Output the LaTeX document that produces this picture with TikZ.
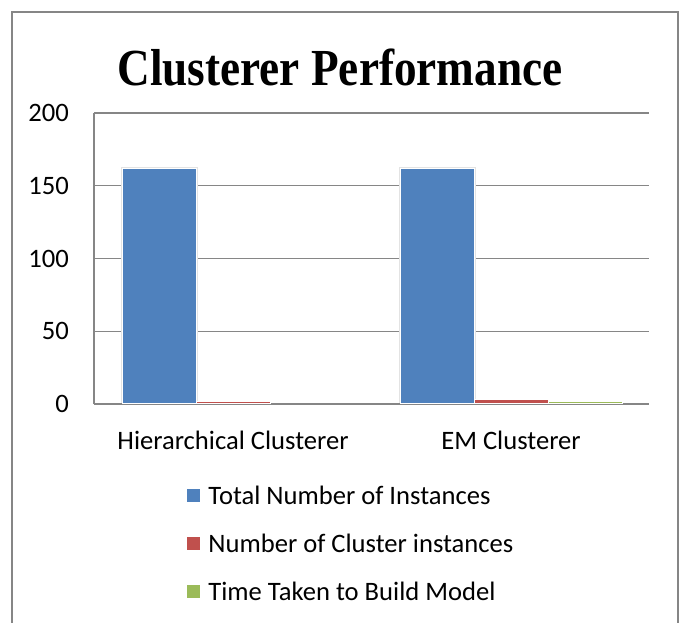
\documentclass[tikz,border=0pt]{standalone}
\usepackage{fontspec}
\setmainfont{Carlito}
\newfontfamily\titlefont{Liberation Serif}
\usetikzlibrary{positioning}
\definecolor{barblue}{HTML}{4F81BD}
\definecolor{barred}{HTML}{C0504D}
\definecolor{bargreen}{HTML}{9BBB59}
\definecolor{gridgray}{HTML}{868686}
\newcommand{\chartfont}{\fontsize{26.6}{30}\selectfont}

\begin{document}
\begin{tikzpicture}[x=1pt, y=-1pt,
    bar/.style = {draw=white, line width=0.4pt},
    grid/.style = {draw=gridgray, line width=1.3pt},
    ticklab/.style = {anchor=east, inner sep=0pt, font=\chartfont},
    catlab/.style = {inner sep=0pt, font=\chartfont},
    legbox/.style = {minimum size=13pt, inner sep=0pt},
    leglab/.style = {anchor=west, inner sep=0pt, font=\chartfont}]
  \useasboundingbox (0,0) rectangle (681,623);
  % outer frame, open at the bottom
  \draw [gridgray, line width=1.5pt] (12,623) -- (12,12) -- (678,12) -- (678,623);
  \node [anchor=base, inner sep=0pt] (title) at (340,86)
        {\scalebox{0.87}[1]{\titlefont\bfseries\fontsize{52}{60}\selectfont Clusterer Performance}};

  \begin{scope}[shift={(94,404)}, x=1pt, y=1.4545pt]
    \foreach \v in {50,100,150,200}
      {
        \draw [grid] (0,\v) -- (555,\v);
      }
    \draw [grid] (0,0) -- (0,200);
    \draw [grid] (0,0) -- (555,0);
    \foreach \v in {0,50,100,150,200}
      {
        \node [ticklab] (tick\v) at (-25,\v) {\v};
      }
    % soft shadow behind the tall bars
    \foreach \x in {28, 306}
      {
        \fill [gray!22] (\x-1.5,0.5) rectangle (\x+75.5,163.2);
      }
    % bars: left edge, value, colour (the zero bar is left out)
    \foreach \x/\h/\c in {28/162/barblue, 102/2/barred,
                          306/162/barblue, 380/3.2/barred, 454/2.2/bargreen}
      {
        \filldraw [bar, fill=\c] (\x,0.45) rectangle (\x+74,\h);
      }
    \node [catlab] (cat1) at (139,-25) {Hierarchical Clusterer};
    \node [catlab] (cat2) at (417,-25) {EM Clusterer};
  \end{scope}

  \node [legbox, fill=barblue] (key1) at (193.5,495) {};
  \node [leglab, right=8pt of key1] (keytext1) {Total Number of Instances};
  \node [legbox, fill=barred] (key2) at (193.5,543) {};
  \node [leglab, right=8pt of key2] (keytext2) {Number of Cluster instances};
  \node [legbox, fill=bargreen] (key3) at (193.5,591) {};
  \node [leglab, right=8pt of key3] (keytext3) {Time Taken to Build Model};
\end{tikzpicture}
\end{document}
